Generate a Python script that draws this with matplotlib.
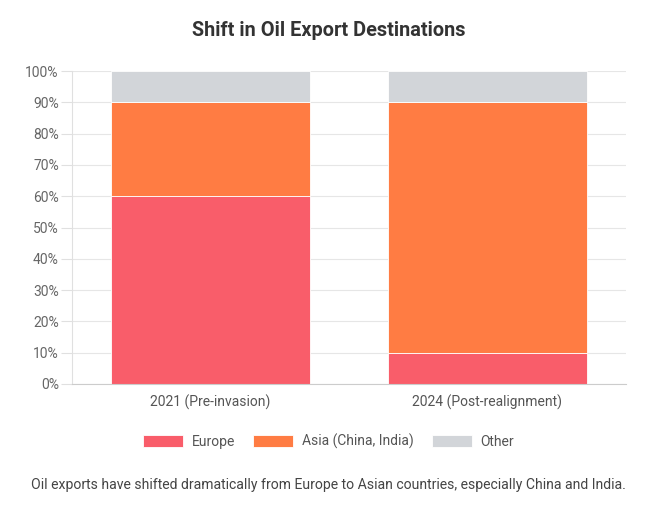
import numpy as np
import matplotlib
matplotlib.use('Agg')
import matplotlib.pyplot as plt
from matplotlib.ticker import PercentFormatter

categories = ['2021 (Pre-invasion)', '2024 (Post-realignment)']
series_names = ['Europe', 'Asia (China, India)', 'Other']
europe = [60, 10]
asia = [30, 80]
other = [10, 10]
colors = ['#F95D6A', '#FF7C43', '#D2D5D9']

plt.rcParams['font.family'] = ['Roboto', 'DejaVu Sans']

fig = plt.figure(figsize=(6.57, 5.08), dpi=100)
ax = fig.add_axes([0.1096, 0.2441, 0.8432, 0.6161])

x = np.arange(len(categories))
bottom = np.zeros(len(categories))
for name, vals, c in zip(series_names, [europe, asia, other], colors):
    ax.bar(x, vals, width=0.72, bottom=bottom, color=c, label=name,
           edgecolor='white', linewidth=0.6, zorder=2)
    bottom += np.array(vals)

ax.set_xlim(-0.5, 1.5)
ax.set_ylim(0, 100)
ax.set_yticks(np.arange(0, 101, 10))
ax.yaxis.set_major_formatter(PercentFormatter(decimals=0))
ax.set_xticks(x)
ax.set_xticklabels(categories)
ax.grid(axis='y', color='#e6e6e6', linewidth=0.8, zorder=0)
ax.tick_params(axis='y', length=8, color='#e0e0e0', labelsize=10, labelcolor='#666666', pad=1.5)
ax.tick_params(axis='x', length=0, labelsize=10, labelcolor='#555555', pad=8)
for s in ['top', 'right']:
    ax.spines[s].set_visible(False)
ax.spines['left'].set_color('#e0e0e0')
ax.spines['bottom'].set_color('#cccccc')

fig.text(0.5, 0.94, 'Shift in Oil Export Destinations', ha='center', va='center',
         fontsize=14.3, fontweight='bold', color='#333333')

fig.legend(loc='center', bbox_to_anchor=(0.5, 0.131), ncol=3, frameon=False,
           fontsize=10, handlelength=2.9, handleheight=1.0, columnspacing=1.3,
           handletextpad=0.6, labelcolor='#555555')

fig.text(0.5, 0.045, 'Oil exports have shifted dramatically from Europe to Asian countries, especially China and India.',
         ha='center', va='center', fontsize=10.1, color='#444444')

fig.savefig('out.png', dpi=100)
